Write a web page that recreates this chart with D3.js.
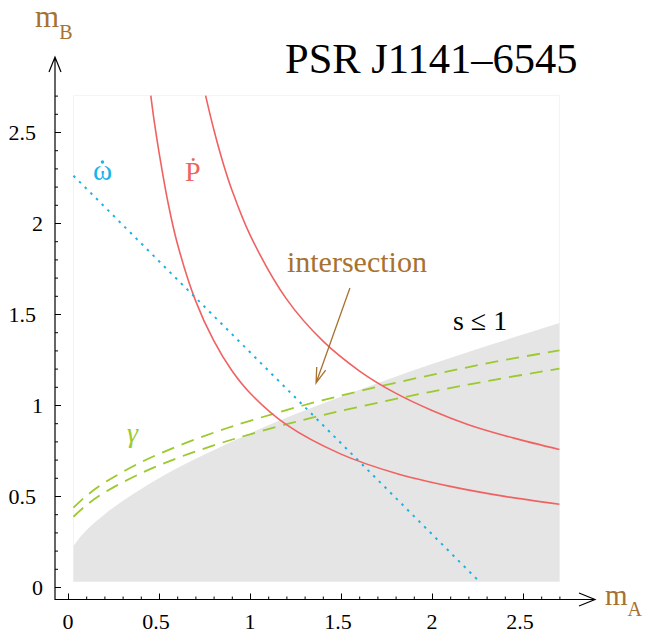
<!DOCTYPE html>
<html>
<head>
<meta charset="utf-8">
<script src="https://cdn.jsdelivr.net/npm/d3@7"></script>
<style>
  html, body { margin: 0; padding: 0; background: #fff; }
  svg { display: block; }
  text { font-family: "Liberation Serif", "DejaVu Serif", serif; }
</style>
</head>
<body>
<svg id="chart" width="650" height="633"></svg>
<script>
// Mass–mass diagram for PSR J1141−6545 (masses in solar units)

// s ≤ 1 boundary (mass function limit): mA and mB pairs
const sBoundaryA = [0.03, 0.05, 0.1, 0.15, 0.2, 0.3, 0.5, 0.75, 1.0, 1.25, 1.5, 1.75, 2.0, 2.25, 2.5, 2.7];
const sBoundaryB = [0.225, 0.253, 0.31, 0.357, 0.399, 0.472, 0.598, 0.728, 0.844, 0.95, 1.046, 1.138, 1.225, 1.308, 1.387, 1.45];

// periastron advance (total mass) line
const omegaDotA = [0.03, 2.26];
const omegaDotB = [2.26, 0.03];

// orbital decay constraint, lower and upper bounds
const pDotLowA = [0.455, 0.475, 0.5, 0.55, 0.6, 0.7, 0.8, 0.9, 1.0, 1.2, 1.5, 1.8, 2.1, 2.4, 2.7];
const pDotLowB = [2.7, 2.55, 2.39, 2.11, 1.89, 1.575, 1.355, 1.19, 1.066, 0.892, 0.73, 0.625, 0.553, 0.498, 0.455];
const pDotHighA = [0.756, 0.8, 0.85, 0.9, 1.0, 1.2, 1.4, 1.6, 1.8, 2.0, 2.2, 2.45, 2.7];
const pDotHighB = [2.7, 2.518, 2.337, 2.183, 1.935, 1.583, 1.352, 1.188, 1.065, 0.97, 0.892, 0.818, 0.756];

// gravitational redshift / time dilation bounds
const gammaA = [0.03, 0.1, 0.2, 0.4, 0.6, 0.8, 1.0, 1.3, 1.6, 2.0, 2.35, 2.7];
const gammaHighB = [0.436, 0.5, 0.573, 0.685, 0.773, 0.848, 0.913, 1.0, 1.076, 1.166, 1.238, 1.3];
const gammaLowB = [0.386, 0.449, 0.519, 0.6245, 0.708, 0.778, 0.839, 0.92, 0.99, 1.074, 1.14, 1.2];

// axis ticks
const majorTicks = [0, 0.5, 1, 1.5, 2, 2.5];
const tickLabels = ["0", "0.5", "1", "1.5", "2", "2.5"];
const minorTicks = d3.range(0, 28).map(i => i / 10);

// plotting window
const plotMin = 0.03, plotMax = 2.7;

const brown = "#a8712f";
const red = "#f06262";
const blue = "#18b4e6";
const green = "#9cc92e";

const svg = d3.select("#chart");
const x = d3.scaleLinear().domain([0, 2.5]).range([68, 523]);
const y = d3.scaleLinear().domain([0, 2.5]).range([587, 132]);

const zip = (a, b) => a.map((v, i) => [v, b[i]]);

// faint frame of the plotting window
svg.append("rect")
  .attr("x", x(plotMin)).attr("y", y(plotMax))
  .attr("width", x(plotMax) - x(plotMin))
  .attr("height", y(plotMin) - y(plotMax))
  .attr("fill", "#fff").attr("stroke", "#f3f3f3").attr("stroke-width", 1);

// shaded region
const area = d3.area()
  .x(d => x(d[0]))
  .y0(y(plotMin))
  .y1(d => y(d[1]))
  .curve(d3.curveMonotoneX);
svg.append("path")
  .datum(zip(sBoundaryA, sBoundaryB))
  .attr("d", area)
  .attr("fill", "#e5e5e5");

const line = d3.line().x(d => x(d[0])).y(d => y(d[1]));
const smooth = d3.line().x(d => x(d[0])).y(d => y(d[1])).curve(d3.curveCatmullRom.alpha(0.5));

// gamma bounds
[gammaHighB, gammaLowB].forEach(b => {
  svg.append("path")
    .datum(zip(gammaA, b))
    .attr("d", smooth)
    .attr("fill", "none").attr("stroke", green)
    .attr("stroke-width", 1.8).attr("stroke-dasharray", "13,8");
});

// orbital decay bounds
[[pDotLowA, pDotLowB], [pDotHighA, pDotHighB]].forEach(([a, b]) => {
  svg.append("path")
    .datum(zip(a, b))
    .attr("d", smooth)
    .attr("fill", "none").attr("stroke", red).attr("stroke-width", 1.6);
});

// periastron advance
svg.append("path")
  .datum(zip(omegaDotA, omegaDotB))
  .attr("d", line)
  .attr("fill", "none").attr("stroke", blue)
  .attr("stroke-width", 2).attr("stroke-dasharray", "2.5,5.5");

// axes
const yMajor = d3.axisLeft(y).tickValues(majorTicks).tickSize(-6).tickFormat("");
const yMinor = d3.axisLeft(y).tickValues(minorTicks).tickSize(-3).tickFormat("");
const xMajor = d3.axisBottom(x).tickValues(majorTicks).tickSize(-6).tickFormat("");
const xMinor = d3.axisBottom(x).tickValues(minorTicks).tickSize(-3).tickFormat("");

const axisX0 = 55, axisY0 = 599.5;
[yMajor, yMinor].forEach(ax => {
  const g = svg.append("g").attr("transform", `translate(${axisX0},0)`).call(ax);
  g.select(".domain").remove();
  g.selectAll("line").attr("stroke", "#000").attr("stroke-width", 1);
});
[xMajor, xMinor].forEach(ax => {
  const g = svg.append("g").attr("transform", `translate(0,${axisY0})`).call(ax);
  g.select(".domain").remove();
  g.selectAll("line").attr("stroke", "#000").attr("stroke-width", 1);
});

// axis lines with open arrowheads
svg.append("path")
  .attr("d", `M${axisX0},600 V57 M49,72 L${axisX0},57 L61,72`)
  .attr("fill", "none").attr("stroke", "#000").attr("stroke-width", 1.2);
svg.append("path")
  .attr("d", `M${axisX0},${axisY0} H595 M579,593 L595,${axisY0} L579,606`)
  .attr("fill", "none").attr("stroke", "#000").attr("stroke-width", 1.2);

// tick labels
svg.append("g").selectAll("text")
  .data(majorTicks)
  .join("text")
  .attr("x", (d, i) => tickLabels[i].includes(".") ? 36 : 43)
  .attr("y", d => y(d))
  .attr("dy", "0.35em")
  .attr("text-anchor", "end")
  .attr("font-size", 22)
  .text((d, i) => tickLabels[i]);
svg.append("g").selectAll("text")
  .data(majorTicks)
  .join("text")
  .attr("x", (d, i) => x(d) - (tickLabels[i].includes(".") ? 3 : 0))
  .attr("y", 629)
  .attr("text-anchor", "middle")
  .attr("font-size", 22)
  .text((d, i) => tickLabels[i]);

// axis titles
const yTitle = svg.append("text").attr("x", 35).attr("y", 27).attr("fill", brown).attr("font-size", 31);
yTitle.append("tspan").text("m");
yTitle.append("tspan").attr("font-size", 20).attr("dy", 12).text("B");
const xTitle = svg.append("text").attr("x", 605).attr("y", 605).attr("fill", brown).attr("font-size", 29);
xTitle.append("tspan").text("m");
xTitle.append("tspan").attr("font-size", 20).attr("dy", 11).text("A");

// title
svg.append("text")
  .attr("x", 285).attr("y", 73)
  .attr("font-size", 42.5)
  .attr("fill", "#000")
  .text("PSR J1141\u20136545");

// curve labels
const omegaLabel = svg.append("text").attr("x", x(0.137)).attr("y", y(2.236))
  .attr("fill", blue).attr("font-size", 29).text("\u03C9");
const omegaW = omegaLabel.node().getComputedTextLength();
svg.append("circle")
  .attr("cx", x(0.137) + omegaW / 2).attr("cy", y(2.236) - 18)
  .attr("r", 1.7).attr("fill", blue);
svg.append("text").attr("x", x(0.643)).attr("y", y(2.231))
  .attr("fill", red).attr("font-size", 28).text("\u1E56");
svg.append("text").attr("x", x(0.324)).attr("y", y(0.797))
  .attr("fill", green).attr("font-size", 28).attr("font-style", "italic").text("\u03B3");
svg.append("text").attr("x", x(2.115)).attr("y", y(1.412))
  .attr("fill", "#000").attr("font-size", 28).text("s \u2264 1");

// intersection annotation
svg.append("text").attr("x", x(1.203)).attr("y", y(1.731))
  .attr("fill", brown).attr("font-size", 30).text("intersection");
const arrowStart = [1.549, 1.643], arrowTip = [1.363, 1.121];
const x1 = x(arrowStart[0]), y1 = y(arrowStart[1]), x2 = x(arrowTip[0]), y2 = y(arrowTip[1]);
const ang = Math.atan2(y2 - y1, x2 - x1);
const headLen = 16, spread = 0.3;
const hx1 = x2 - headLen * Math.cos(ang - spread), hy1 = y2 - headLen * Math.sin(ang - spread);
const hx2 = x2 - headLen * Math.cos(ang + spread), hy2 = y2 - headLen * Math.sin(ang + spread);
svg.append("path")
  .attr("d", `M${x1},${y1} L${x2},${y2} M${hx1},${hy1} L${x2},${y2} L${hx2},${hy2}`)
  .attr("fill", "none").attr("stroke", brown).attr("stroke-width", 1.3);
</script>
</body>
</html>
